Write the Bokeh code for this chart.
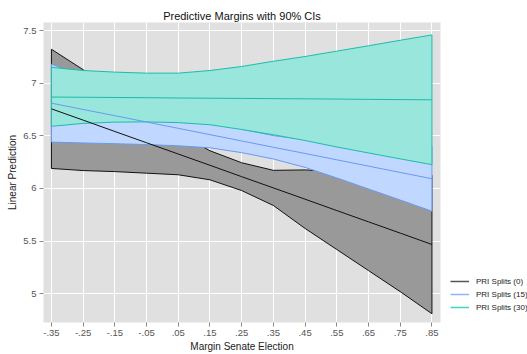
from bokeh.plotting import figure
from bokeh.models import Range1d, FixedTicker, Legend, LegendItem
from bokeh.embed import file_html
from bokeh.resources import INLINE

# ---- data ----
x_vals = [-0.35, -0.25, -0.15, -0.05, 0.05, 0.15, 0.25, 0.35, 0.45, 0.55, 0.65, 0.75, 0.85]
x_tick_labels = ["-.35", "-.25", "-.15", "-.05", ".05", ".15", ".25", ".35", ".45", ".55", ".65", ".75", ".85"]
y_ticks = [5, 5.5, 6, 6.5, 7, 7.5]
y_tick_labels = ["5", "5.5", "6", "6.5", "7", "7.5"]

s0_mid = [6.756, 6.649, 6.541, 6.434, 6.327, 6.220, 6.112, 6.005, 5.898, 5.790, 5.683, 5.576, 5.468]
s0_lo = [6.190, 6.170, 6.160, 6.145, 6.130, 6.082, 5.980, 5.838, 5.620, 5.420, 5.220, 5.020, 4.810]
s0_hi = [7.322, 7.128, 6.922, 6.723, 6.524, 6.358, 6.244, 6.172, 6.176, 6.160, 6.146, 6.132, 6.126]

s15_mid = [6.810, 6.750, 6.691, 6.631, 6.571, 6.511, 6.451, 6.391, 6.332, 6.272, 6.212, 6.152, 6.092]
s15_lo = [6.440, 6.432, 6.425, 6.417, 6.405, 6.386, 6.340, 6.280, 6.200, 6.100, 5.995, 5.890, 5.784]
s15_hi = [7.180, 7.068, 6.957, 6.845, 6.737, 6.636, 6.562, 6.502, 6.464, 6.444, 6.429, 6.414, 6.400]

s30_mid = [6.868, 6.866, 6.864, 6.862, 6.859, 6.857, 6.855, 6.853, 6.851, 6.849, 6.846, 6.844, 6.842]
s30_lo = [6.590, 6.618, 6.630, 6.632, 6.625, 6.605, 6.560, 6.510, 6.455, 6.394, 6.337, 6.281, 6.226]
s30_hi = [7.150, 7.120, 7.105, 7.095, 7.095, 7.120, 7.158, 7.208, 7.253, 7.304, 7.355, 7.407, 7.458]

series_names = ["PRI Splits (0)", "PRI Splits (15)", "PRI Splits (30)"]

# ---- styles ----
fills = ["#999999", "#c0d8ff", "#98e6dc"]
edges = ["#111111", "#6a98f0", "#1cbcaa"]
legend_cols = ["#555555", "#8fb4fb", "#3ad6c4"]
FONT = "Liberation Sans"

p = figure(width=527, height=354, output_backend="svg", toolbar_location=None,
           x_range=Range1d(-0.375, 0.877), y_range=Range1d(4.727, 7.576),
           frame_width=397, frame_height=300,
           min_border_left=43, min_border_right=0, min_border_top=22, min_border_bottom=32)

p.title.text = "Predictive Margins with 90% CIs"
p.title.align = "center"
p.title.text_font = FONT
p.title.text_font_size = "11px"
p.title.text_font_style = "normal"
p.title.text_color = "#111111"
p.title.standoff = 2

p.background_fill_color = "#e0e0e0"
p.border_fill_color = "white"
p.outline_line_color = None

groups = [(s0_lo, s0_mid, s0_hi), (s15_lo, s15_mid, s15_hi), (s30_lo, s30_mid, s30_hi)]
for (lo, mid, hi), fc, ec in zip(groups, fills, edges):
    xs = list(x_vals) + list(reversed(x_vals))
    ys = list(hi) + list(reversed(lo))
    p.patch(xs, ys, fill_color=fc, line_color=ec, line_width=1)

for (lo, mid, hi), ec in zip(groups, edges):
    p.line(x_vals, mid, line_color=ec, line_width=1)

# legend proxies (lines with legend colours, outside the visible range)
proxies = []
for c in legend_cols:
    r = p.line([x_vals[0], x_vals[0]], [1.0, 1.0], line_color=c, line_width=1.5)
    proxies.append(r)

legend = Legend(items=[LegendItem(label=n, renderers=[r]) for n, r in zip(series_names, proxies)],
                location="bottom_left", orientation="vertical",
                label_text_font=FONT, label_text_font_size="8px", label_text_color="#222222",
                label_text_font_style="normal",
                label_height=10,
                glyph_width=19, glyph_height=10, label_standoff=7, spacing=3,
                padding=0, margin=10,
                background_fill_alpha=0, border_line_color=None)
p.add_layout(legend, "right")

p.xaxis.ticker = FixedTicker(ticks=x_vals)
p.xaxis.major_label_overrides = {v: l for v, l in zip(x_vals, x_tick_labels)}
p.yaxis.ticker = FixedTicker(ticks=y_ticks)
p.yaxis.major_label_overrides = {v: l for v, l in zip(y_ticks, y_tick_labels)}

for ax in (p.xaxis, p.yaxis):
    ax.axis_line_color = None
    ax.major_tick_line_color = "#888888"
    ax.major_tick_out = 4
    ax.major_tick_in = 0
    ax.minor_tick_line_color = None
    ax.major_label_text_font = FONT
    ax.major_label_text_font_size = "9.5px"
    ax.major_label_text_color = "#555555"
    ax.major_label_standoff = 3
    ax.axis_label_text_font = FONT
    ax.axis_label_text_font_size = "10px"
    ax.axis_label_text_font_style = "normal"
    ax.axis_label_text_color = "#222222"
    ax.axis_label_standoff = 2

p.xaxis.axis_label = "Margin Senate Election"
p.yaxis.axis_label = "Linear Prediction"
p.yaxis.major_label_orientation = "horizontal"

p.xgrid.ticker = FixedTicker(ticks=x_vals)
p.ygrid.ticker = FixedTicker(ticks=y_ticks)
p.grid.grid_line_color = "white"
p.grid.grid_line_width = 1

open("out.html", "w").write(file_html(p, INLINE))
